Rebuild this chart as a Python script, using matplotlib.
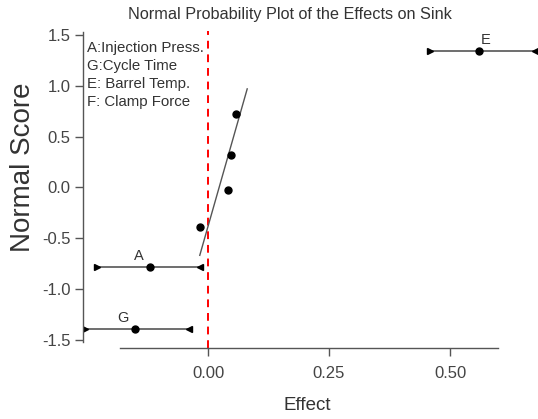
import numpy as np
import matplotlib
matplotlib.use("Agg")
import matplotlib.pyplot as plt

plt.rcParams['font.family'] = ['Liberation Sans', 'DejaVu Sans']

# effect estimates and normal scores
effects = [-0.151, -0.120, -0.017, 0.041, 0.048, 0.058, 0.560]
scores = [-1.40, -0.79, -0.39, -0.03, 0.32, 0.72, 1.34]

# labelled effects with their intervals
lab_names = ['G', 'A', 'E']
lab_x = [-0.151, -0.120, 0.560]
lab_y = [-1.40, -0.79, 1.34]
lab_lo = [-0.254, -0.229, 0.459]
lab_hi = [-0.039, -0.017, 0.676]

# reference line through the small effects
fit_x = [-0.017, 0.081]
fit_y = [-0.67, 0.97]

legend_lines = ['A:Injection Press.', 'G:Cycle Time', 'E: Barrel Temp.', 'F: Clamp Force']

grey = '#555555'

fig = plt.figure(figsize=(5.38, 4.19), dpi=100)
ax = fig.add_axes([0.1545, 0.1695, 0.8466, 0.7613])
ax.set_xlim(-0.258, 0.683)
ax.set_ylim(-1.583, 1.56)

for s in ['top', 'right']:
    ax.spines[s].set_visible(False)
ax.spines['left'].set_bounds(-1.52, 1.53)
ax.spines['bottom'].set_bounds(-0.182, 0.599)
for s in ['left', 'bottom']:
    ax.spines[s].set_color(grey)
    ax.spines[s].set_linewidth(1.0)

ax.set_xticks([0.0, 0.25, 0.5])
ax.set_xticklabels(['0.00', '0.25', '0.50'])
ax.set_yticks([-1.5, -1.0, -0.5, 0.0, 0.5, 1.0, 1.5])
ax.set_yticklabels(['-1.5', '-1.0', '-0.5', '0.0', '0.5', '1.0', '1.5'])
ax.tick_params(axis='both', colors=grey, labelcolor='#444444', labelsize=12,
               length=6, width=1.0, pad=3)
ax.tick_params(axis='x', pad=7)

# zero line
ax.axvline(0, color='red', linestyle=(0, (4, 3)), linewidth=1.4,
           ymin=0, ymax=0.995, clip_on=False)

# intervals
for n, x, y, lo, hi in zip(lab_names, lab_x, lab_y, lab_lo, lab_hi):
    ax.plot([lo, hi], [y, y], color=grey, linewidth=1.2)
    ax.plot([lo], [y], marker='>', color='black', markersize=4.5, linestyle='none')
    ax.plot([hi], [y], marker='<', color='black', markersize=4.5, linestyle='none')
    if n == 'E':
        ax.text(x + 0.004, y + 0.04, n, ha='left', va='bottom', fontsize=10.5, color='#333333')
    else:
        ax.text(x - 0.012, y + 0.04, n, ha='right', va='bottom', fontsize=10.5, color='#333333')

ax.plot(fit_x, fit_y, color=grey, linewidth=1.0)
ax.plot(effects, scores, 'o', color='black', markersize=5)

for i, t in enumerate(legend_lines):
    ax.text(-0.25, 1.37 - i * 0.175, t, ha='left', va='center', fontsize=10.8, color='#333333')

fig.text(290 / 538, 1 - 14 / 419, 'Normal Probability Plot of the Effects on Sink',
         ha='center', va='center', fontsize=11.7, color='#333333')
fig.text(307 / 538, 1 - 405 / 419, 'Effect', ha='center', va='center',
         fontsize=13.5, color='#333333')
fig.text(23 / 538, 1 - 167 / 419, 'Normal Score', ha='center', va='center',
         rotation=90, fontsize=20, color='#333333')

fig.savefig('out.png', dpi=100)
